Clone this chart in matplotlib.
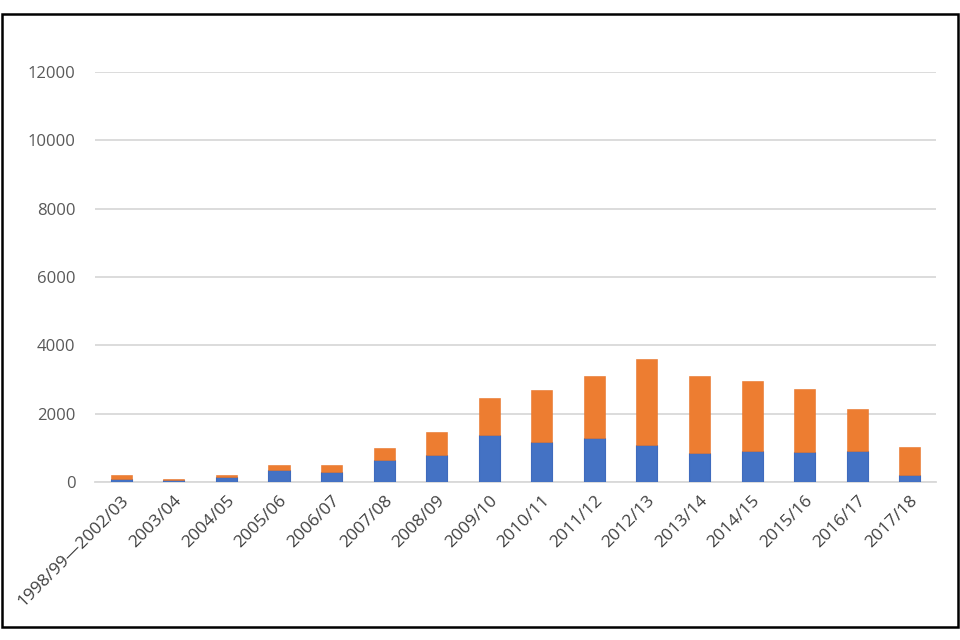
import matplotlib
matplotlib.use('Agg')
import matplotlib.pyplot as plt
from matplotlib.patches import Rectangle

years = ['1998/99\u20142002/03', '2003/04', '2004/05', '2005/06', '2006/07',
         '2007/08', '2008/09', '2009/10', '2010/11', '2011/12', '2012/13',
         '2013/14', '2014/15', '2015/16', '2016/17', '2017/18']
blue_vals = [80, 70, 135, 340, 280, 630, 780, 1360, 1160, 1280, 1070,
             840, 895, 870, 895, 195]
totals = [200, 80, 195, 490, 490, 985, 1450, 2470, 2680, 3090, 3610,
          3090, 2940, 2710, 2125, 1015]
orange_vals = [t - b for t, b in zip(totals, blue_vals)]
yticks = [0, 2000, 4000, 6000, 8000, 10000, 12000]

plt.rcParams['font.family'] = ['Open Sans', 'DejaVu Sans']

fig = plt.figure(figsize=(9.6, 6.4), dpi=100)
ax = fig.add_axes([0.099, 0.247, 0.876, 0.6405])

x = range(len(years))
ax.bar(x, blue_vals, width=0.4, color='#4472C4', edgecolor='#3f6bbd', linewidth=0.8, zorder=3)
ax.bar(x, orange_vals, width=0.4, bottom=blue_vals, color='#ED7D31',
       edgecolor='#e8742a', linewidth=0.4, zorder=3)

ax.set_xlim(-0.5, len(years) - 0.5)
ax.set_ylim(0, 12000)
ax.set_yticks(yticks)
ax.set_yticklabels([str(v) for v in yticks])
ax.set_xticks(list(x))
ax.set_xticklabels(years, rotation=45, ha='right', rotation_mode='anchor')

ax.grid(axis='y', color='#D9D9D9', linewidth=1.3, zorder=0)
for s in ['top', 'right', 'left']:
    ax.spines[s].set_visible(False)
ax.spines['bottom'].set_color('#D9D9D9')
ax.spines['bottom'].set_linewidth(1.3)
ax.tick_params(axis='y', length=0, pad=14, labelsize=12, labelcolor='#595959')
ax.tick_params(axis='x', length=0, pad=8, labelsize=12.5, labelcolor='#404040')

fig.patches.append(Rectangle((0.002, 0.021), 0.996, 0.957, transform=fig.transFigure,
                             fill=False, edgecolor='black', linewidth=1.8))

fig.savefig('out.png', dpi=100)
